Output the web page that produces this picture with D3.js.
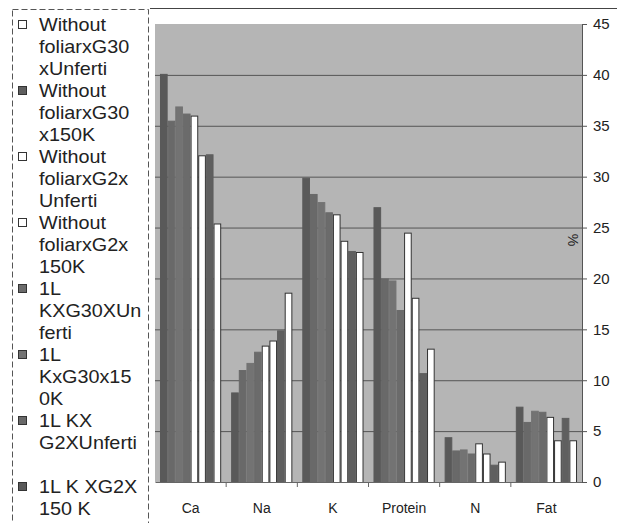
<!DOCTYPE html>
<html>
<head>
<meta charset="utf-8">
<script src="https://cdn.jsdelivr.net/npm/d3@7/dist/d3.min.js"></script>
<style>
  body { margin: 0; background: #fff; }
  svg { display: block; font-family: "Liberation Sans", Arial, sans-serif; }
</style>
</head>
<body>
<div id="chart"></div>
<script>
const width = 617, height = 523;

const categories = ['Ca', 'Na', 'K', 'Protein', 'N', 'Fat'];

const seriesLines = [
  ['Without', 'foliarxG30', 'xUnferti'],
  ['Without', 'foliarxG30', 'x150K'],
  ['Without', 'foliarxG2x', 'Unferti'],
  ['Without', 'foliarxG2x', '150K'],
  ['1L', 'KXG30XUn', 'ferti'],
  ['1L', 'KxG30x15', '0K'],
  ['1L KX', 'G2XUnferti', ''],
  ['1L K XG2X', '150 K']
];

// values per series, in category order
const s1 = [25.4, 18.6, 22.6, 13.1, 2.0, 4.1];
const s2 = [32.2, 14.9, 22.7, 10.7, 1.7, 6.3];
const s3 = [32.1, 13.9, 23.7, 18.1, 2.8, 4.1];
const s4 = [36.0, 13.4, 26.3, 24.5, 3.8, 6.4];
const s5 = [36.2, 12.8, 26.5, 16.9, 2.8, 6.9];
const s6 = [36.9, 11.7, 27.5, 19.8, 3.2, 7.0];
const s7 = [35.5, 11.0, 28.3, 20.0, 3.1, 5.9];
const s8 = [40.1, 8.8, 29.9, 27.0, 4.4, 7.4];
const seriesValues = [s1, s2, s3, s4, s5, s6, s7, s8];

const yTicks = [0, 5, 10, 15, 20, 25, 30, 35, 40, 45];

const fills = ['#ffffff', '#5f5f5f', '#ffffff', '#ffffff', '#6b6b6b', '#737373', '#696969', '#595959'];

const plot = { left: 155, right: 582, top: 24, bottom: 482 };

const svg = d3.select('#chart').append('svg')
  .attr('width', width).attr('height', height);

/* Chart border bits */
svg.append('line')
  .attr('x1', 150).attr('x2', 617).attr('y1', 8.5).attr('y2', 8.5)
  .attr('stroke', '#444').attr('stroke-width', 1);

/* Scales */
const x0 = d3.scaleBand().domain(categories)
  .range([plot.left, plot.right]).paddingInner(0.14).paddingOuter(0.07);
const idx = d3.range(seriesValues.length);
const x1 = d3.scaleBand().domain(idx.slice().reverse()).range([0, x0.bandwidth()]);
const y = d3.scaleLinear().domain([0, 45]).range([plot.bottom, plot.top]);

/* Plot background */
svg.append('rect')
  .attr('x', plot.left).attr('y', plot.top)
  .attr('width', plot.right - plot.left).attr('height', plot.bottom - plot.top)
  .attr('fill', '#b5b5b5');

/* Grid */
svg.append('g').selectAll('line')
  .data(yTicks.filter(d => d > 0 && d < 45)).join('line')
  .attr('x1', plot.left).attr('x2', plot.right)
  .attr('y1', d => y(d) + 0.5).attr('y2', d => y(d) + 0.5)
  .attr('stroke', '#555').attr('stroke-width', 1);

/* Bars */
const groups = svg.append('g').selectAll('g')
  .data(categories).join('g')
  .attr('transform', d => `translate(${x0(d)},0)`);

groups.selectAll('rect')
  .data((c, ci) => idx.map(i => ({ i, v: seriesValues[i][ci] })))
  .join('rect')
  .attr('x', d => x1(d.i) + 0.5)
  .attr('y', d => y(d.v) + 0.5)
  .attr('width', x1.bandwidth() - 1)
  .attr('height', d => y(0) - y(d.v))
  .attr('fill', d => fills[d.i])
  .attr('stroke', d => fills[d.i] === '#ffffff' ? '#333' : fills[d.i])
  .attr('stroke-width', 1);

/* Bottom axis */
const xAxis = svg.append('g')
  .attr('transform', `translate(0,${plot.bottom})`)
  .call(d3.axisBottom(x0).tickSize(0).tickPadding(21))
  .call(ax => ax.select('.domain').attr('stroke', '#666'));
xAxis.selectAll('text')
  .style('font-size', '14px').style('fill', '#222')
  .style('font-family', '"Liberation Sans", Arial, sans-serif');
svg.append('g').selectAll('line')
  .data(categories.slice(1)).join('line')
  .attr('x1', d => x0(d) - x0.step() * x0.paddingInner() / 2)
  .attr('x2', d => x0(d) - x0.step() * x0.paddingInner() / 2)
  .attr('y1', plot.bottom).attr('y2', plot.bottom + 5)
  .attr('stroke', '#666');

/* Right axis */
const yAxis = svg.append('g')
  .attr('transform', `translate(${plot.right},0)`)
  .call(d3.axisRight(y).tickValues(yTicks).tickSize(5).tickPadding(6))
  .call(ax => ax.select('.domain').attr('stroke', '#555'))
  .call(ax => ax.selectAll('.tick line').attr('stroke', '#555'));
yAxis.selectAll('text')
  .style('font-size', '15px').style('fill', '#222')
  .style('font-family', '"Liberation Sans", Arial, sans-serif');

svg.append('text')
  .attr('transform', `translate(568,240) rotate(90)`)
  .attr('text-anchor', 'middle')
  .attr('font-size', '14px').attr('fill', '#222')
  .text('%');

/* Legend */
svg.append('defs').append('clipPath').attr('id', 'legclip')
  .append('rect').attr('x', 0).attr('y', 0).attr('width', 149).attr('height', height);

svg.append('rect')
  .attr('x', 12.5).attr('y', 9.5).attr('width', 136).attr('height', 520)
  .attr('fill', 'none').attr('stroke', '#555').attr('stroke-dasharray', '6,3');

const leg = svg.append('g').attr('clip-path', 'url(#legclip)');
const lineH = 22, itemH = 66, legTop = 25;
seriesLines.forEach((lines, i) => {
  const gy = legTop + i * itemH;
  leg.append('rect')
    .attr('x', 18.5).attr('y', gy - 4.5).attr('width', 8).attr('height', 8)
    .attr('fill', fills[i]).attr('stroke', '#333');
  const t = leg.append('text')
    .attr('transform', `translate(39,${gy}) scale(1.1,1)`)
    .attr('font-size', '18px').attr('fill', '#222');
  lines.forEach((l, k) => {
    t.append('tspan').attr('x', 0).attr('y', k * lineH).attr('dy', '0.35em').text(l);
  });
});
</script>
</body>
</html>
